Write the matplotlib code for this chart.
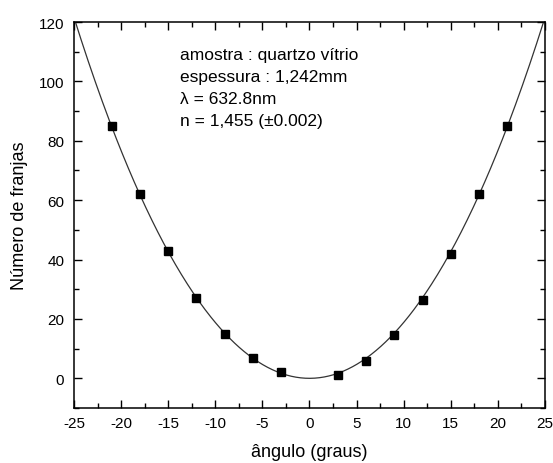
import numpy as np
import matplotlib
matplotlib.use("Agg")
import matplotlib.pyplot as plt
from matplotlib.ticker import MultipleLocator

plt.rcParams['font.family'] = ['Liberation Sans', 'DejaVu Sans']
plt.rcParams['axes.unicode_minus'] = False

# measured points
angle = [-21, -18, -15, -12, -9, -6, -3, 3, 6, 9, 12, 15, 18, 21]
fringes = [85, 62, 43, 27, 15, 7, 2, 1, 6, 14.5, 26.5, 42, 62, 85]

# sample parameters (from the annotation)
thickness = 1.242e-3
wavelength = 632.8e-9
n_index = 1.455

# fit curve: fringe count for a tilted plate
theta = np.linspace(-25, 25, 400)
t = np.radians(theta)
fit = (2 * thickness / wavelength) * (1 - np.cos(t) - n_index + np.sqrt(n_index**2 - np.sin(t)**2))

fig = plt.figure(figsize=(5.53, 4.64), dpi=100)
ax = fig.add_axes([0.1338, 0.1185, 0.8517, 0.8319])

ax.plot(theta, fit, color='#333333', lw=0.9)
ax.plot(angle, fringes, 's', color='black', ms=6)

ax.set_xlim(-25, 25)
ax.set_ylim(-10, 120)
ax.xaxis.set_major_locator(MultipleLocator(5))
ax.xaxis.set_minor_locator(MultipleLocator(2.5))
ax.yaxis.set_major_locator(MultipleLocator(20))
ax.yaxis.set_minor_locator(MultipleLocator(10))
ax.tick_params(which='both', direction='in', top=True, right=True, labelsize=11, width=1)
ax.tick_params(which='major', length=6)
ax.tick_params(which='minor', length=3.5)
ax.tick_params(axis='x', which='major', pad=6)
ax.tick_params(axis='y', which='major', pad=7)
for s in ax.spines.values():
    s.set_linewidth(1.1)

ax.set_xlabel('ângulo (graus)', fontsize=13, labelpad=9)
ax.set_ylabel('Número de franjas', fontsize=13, labelpad=8)

info = ['amostra : quartzo vítrio', 'espessura : 1,242mm',
        'λ = 632.8nm', 'n = 1,455 (±0.002)']
for i, line in enumerate(info):
    ax.text(0.225, 0.917 - i * 0.057, line, transform=ax.transAxes,
            fontsize=12.5, va='center', ha='left')

fig.savefig('out.png', dpi=100)
